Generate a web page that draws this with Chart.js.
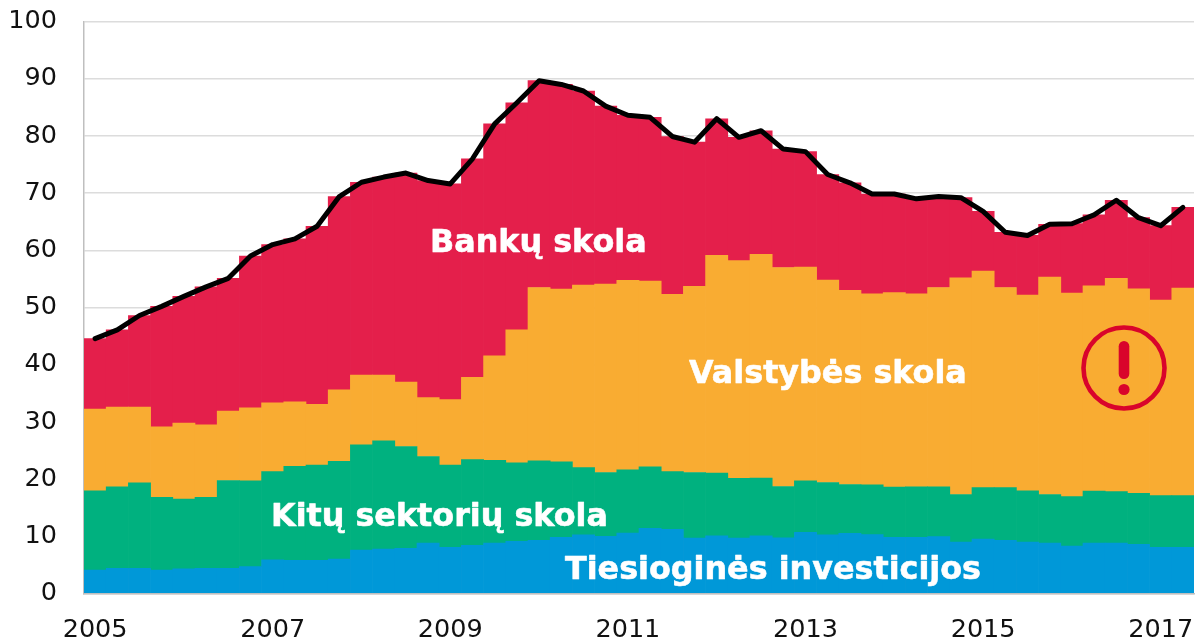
<!DOCTYPE html>
<html><head><meta charset="utf-8">
<style>html,body{margin:0;padding:0;background:#fff}canvas{display:block}</style>
<script src="https://cdn.jsdelivr.net/npm/chart.js@4"></script></head>
<body><canvas id="c" width="1195" height="640"></canvas>
<script>
const categories=["2005","","","","","","","","2007","","","","","","","","2009","","","","","","","","2011","","","","","","","","2013","","","","","","","","2015","","","","","","","","2017",""];
const fdi=[4.1,4.4,4.4,4.1,4.3,4.4,4.4,4.7,5.9,5.8,5.8,6.0,7.6,7.75,7.9,8.8,8.05,8.4,8.8,9.1,9.3,9.8,10.25,10.0,10.55,11.4,11.2,9.7,10.1,9.7,10.1,9.75,10.7,10.25,10.5,10.3,9.8,9.8,9.95,9.0,9.5,9.3,9.0,8.8,8.3,8.8,8.8,8.6,8.05,8.05];
const otherSectors=[13.85,14.25,14.95,12.7,12.2,12.4,15.35,15.0,15.4,16.45,16.65,17.1,18.4,18.95,17.8,15.15,14.4,15.0,14.5,13.75,13.9,13.2,11.75,11.15,11.05,10.75,10.1,11.45,10.95,10.45,10.1,8.95,9.0,9.15,8.55,8.7,8.8,8.85,8.7,8.3,9.0,9.2,8.95,8.5,8.65,9.1,9.0,8.9,9.05,9.05];
const government=[14.3,13.95,13.25,12.35,13.3,12.7,12.15,12.75,12.05,11.25,10.6,12.5,12.2,11.5,11.25,10.3,11.45,14.4,18.25,23.25,30.3,30.2,31.9,32.95,33.15,32.45,31.0,32.55,38.05,38.05,39.1,38.3,37.35,35.4,33.95,33.4,34.0,33.75,34.85,37.9,37.85,35.0,34.2,38.0,35.55,35.9,37.3,35.75,34.2,36.3];
const banks=[12.3,13.5,16.0,21.05,22.15,24.1,23.2,26.55,27.65,28.5,31.15,33.8,33.7,34.6,36.55,37.95,37.7,38.2,40.55,39.7,36.15,35.8,33.95,31.1,28.85,28.65,27.6,25.2,23.9,21.55,21.6,20.7,20.2,18.45,18.8,17.45,17.25,16.6,15.9,14.0,10.45,9.65,10.45,9.25,12.15,12.4,13.65,12.45,13.0,14.1];
const total=[44.55,46.1,48.6,50.2,51.95,53.6,55.1,59.0,61.0,62.0,64.2,69.4,71.9,72.8,73.5,72.2,71.6,76.0,82.1,85.8,89.65,89.0,87.85,85.2,83.6,83.25,79.9,78.9,83.0,79.75,80.9,77.7,77.25,73.25,71.8,69.85,69.85,69.0,69.4,69.2,66.8,63.15,62.6,64.55,64.65,66.2,68.75,65.7,64.3,67.5];
const annotations=[
 {text:"Bankų skola",x:430,y:252},
 {text:"Valstybės skola",x:689,y:383},
 {text:"Kitų sektorių skola",x:271,y:526},
 {text:"Tiesioginės investicijos",x:565,y:578.5}
];
const overlay={id:'overlay',afterDatasetsDraw(chart){
 const g=chart.ctx;g.save();
 g.fillStyle='#fff';g.strokeStyle='#fff';g.lineWidth=0.6;g.lineJoin='round';g.font='bold 31.8px "DejaVu Sans"';g.textAlign='left';g.textBaseline='alphabetic';
 annotations.forEach(a=>{g.fillText(a.text,a.x,a.y);g.strokeText(a.text,a.x,a.y);});
 const red='#D9042B';
 g.strokeStyle=red;g.lineWidth=4.6;g.beginPath();g.arc(1124,368,40.5,0,Math.PI*2);g.stroke();
 g.fillStyle=red;g.beginPath();g.roundRect(1118.7,341,10.6,38,5.3);g.fill();
 g.beginPath();g.arc(1124,389.5,5.6,0,Math.PI*2);g.fill();
 g.restore();
}};
const bar=(label,data,color)=>({type:'bar',label,data,backgroundColor:color,borderWidth:0,stack:'debt',order:2,barPercentage:1,categoryPercentage:1});
new Chart(document.getElementById('c'),{
 data:{labels:categories,datasets:[
  bar('Tiesioginės investicijos',fdi,'#0098D8'),
  bar('Kitų sektorių skola',otherSectors,'#00B17F'),
  bar('Valstybės skola',government,'#F9AC32'),
  bar('Bankų skola',banks,'#E41F4B'),
  {type:'line',label:'Iš viso',data:total,borderColor:'#000',borderWidth:5,pointRadius:0,tension:0,stack:'total',order:1,borderCapStyle:'round',borderJoinStyle:'round',fill:false}
 ]},
 options:{responsive:false,animation:false,
  layout:{padding:{top:21.5,right:1,left:0,bottom:0}},
  plugins:{legend:{display:false},tooltip:{enabled:false}},
  scales:{
   x:{stacked:true,offset:true,grid:{display:false,drawTicks:false},border:{color:'#BFBFBF',width:1.5},
      ticks:{autoSkip:false,maxRotation:0,minRotation:0,padding:21.5,color:'#111',font:{family:'"DejaVu Sans"',size:25.5}},
      afterFit(s){s.height=46.5;s.paddingLeft=0;s.paddingRight=0;}},
   y:{stacked:true,min:0,max:100,grid:{color:'#DCDCDC',lineWidth:1.5,drawTicks:false},border:{color:'#BFBFBF',width:1.5},
      ticks:{stepSize:10,padding:27,color:'#111',font:{family:'"DejaVu Sans"',size:25.5}},
      afterFit(s){s.width=84;s.paddingTop=0;s.paddingBottom=0;}}
  }
 },
 plugins:[overlay]
});
</script></body></html>
